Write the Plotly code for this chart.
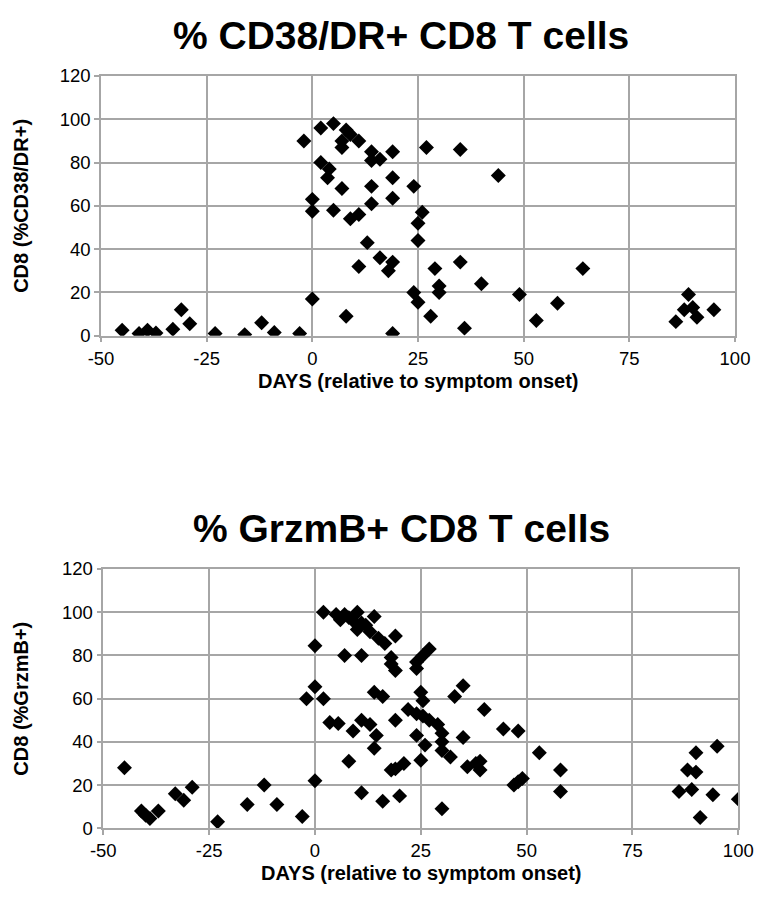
import plotly.graph_objects as go

# % CD38/DR+ CD8 T cells: days relative to symptom onset, percent positive
cd38_days = [-45, -41, -39, -37, -33, -31, -29, -23, -16, -12, -9, -3,
             0, -2, 2, 2, 3.6, 0, 0,
             5, 8, 9, 11, 7, 7, 14, 14, 16, 19, 27, 35,
             4, 7, 14, 19, 24, 44,
             5, 9, 11, 14, 19, 26, 25, 25, 13, 11, 16, 19, 18, 29, 35, 40,
             30, 30, 24, 25, 49, 28, 8, 19, 36, 53, 64, 58,
             89, 88, 90, 91, 95, 86]
cd38_pct = [2.5, 1, 2.5, 1.2, 3, 12, 5.5, 1, 0.5, 6, 1.5, 1,
            17, 90, 96, 80, 73, 63, 57.5,
            98, 95, 93, 90, 87, 90, 85, 81, 81.5, 85, 87, 86,
            77, 68, 69, 73, 69, 74,
            58, 54, 56, 61, 63.5, 57, 52, 44, 43, 32, 36, 34, 30, 31, 34, 24,
            23, 20, 20, 15.5, 19, 9, 9, 1, 3.5, 7, 31, 15,
            19, 12, 13, 8.5, 12, 6.5]

# % GrzmB+ CD8 T cells
grz_days = [-45, -41, -40, -39, -37, -33, -31, -29, -23, -16, -12, -9, -3,
            0, -2, 0, 2, 0,
            2, 5, 7, 10, 14, 6, 9, 10, 12, 13, 15, 16.5, 19, 11, 8,
            7, 11, 18, 18, 19, 27, 25.5, 24, 24,
            14, 16, 25, 25.5, 35, 33, 40,
            3.5, 5.5, 11, 9, 13, 14.5, 14, 19, 22, 24, 25.5, 27, 29, 30,
            24, 26, 30, 35, 30, 32, 25, 36, 38, 39, 39,
            8, 18, 19, 21, 47, 48, 49,
            11, 16, 20, 30,
            53, 44.5, 48, 58, 58,
            90, 95, 88, 90, 86, 89, 94, 100, 91]
grz_pct = [28, 8, 6, 4.5, 8, 16, 13, 19, 3, 11, 20, 11, 5.5,
           22, 60, 65.5, 60, 84.5,
           100, 99, 99, 100, 98, 96.5, 96, 92, 94, 91, 88, 85.5, 89, 95, 97.5,
           80, 80, 79, 76, 73, 83, 80, 77, 74,
           63, 61, 63, 59, 66, 61, 55,
           49, 48.5, 50, 45, 48, 43, 37, 50, 55, 53, 52, 50, 48, 44,
           43, 38.5, 40, 42, 36, 33, 31.5, 28.5, 30, 31, 27,
           31, 27, 27.5, 30, 20, 21.5, 23,
           16.5, 12.5, 15, 9,
           35, 46, 45, 27, 17,
           35, 38, 27, 26, 17, 18, 15.5, 13.5, 5]

x_ticks = [-50, -25, 0, 25, 50, 75, 100]
x_tick_labels = ["-50", "-25", "0", "25", "50", "75", "100"]
y_ticks = [0, 20, 40, 60, 80, 100, 120]

titles = ["% CD38/DR+ CD8 T cells", "% GrzmB+ CD8 T cells"]
y_titles = ["CD8 (%CD38/DR+)", "CD8 (%GrzmB+)"]
x_title = "DAYS (relative to symptom onset)"

W, H = 757, 915
GRID = "#a6a6a6"
FONT = "Liberation Sans, Arial, sans-serif"

# plot-area pixel boxes (left, right, top, bottom)
boxes = [(101, 735, 76, 335.7), (103.3, 738.3, 569, 828.3)]

fig = go.Figure()
series = [(cd38_days, cd38_pct), (grz_days, grz_pct)]
for i, (xs, ys) in enumerate(series):
    sfx = "" if i == 0 else "2"
    fig.add_trace(go.Scatter(
        x=xs, y=ys, mode="markers",
        marker=dict(symbol="diamond", size=11.5, color="black", line=dict(width=0)),
        xaxis="x" + sfx, yaxis="y" + sfx, showlegend=False, hoverinfo="x+y"))

layout = dict(width=W, height=H, margin=dict(l=0, r=0, t=0, b=0, autoexpand=False),
              paper_bgcolor="white", plot_bgcolor="white",
              font=dict(family=FONT, color="black"), annotations=[])

for i, (l, r, t, b) in enumerate(boxes):
    sfx = "" if i == 0 else "2"
    common = dict(showgrid=True, gridcolor=GRID, gridwidth=1.5,
                  showline=True, linecolor=GRID, linewidth=1.5, mirror=True,
                  ticks="outside", ticklen=5, tickcolor=GRID, tickwidth=1.5,
                  zeroline=False, automargin=False,
                  tickfont=dict(size=18.5, family=FONT, color="black"))
    layout["xaxis" + sfx] = dict(domain=[l / W, r / W], range=[-50, 100],
                                 tickvals=x_ticks, ticktext=x_tick_labels,
                                 anchor="y" + sfx, **common)
    layout["yaxis" + sfx] = dict(domain=[1 - b / H, 1 - t / H], range=[0, 120],
                                 tickvals=y_ticks, anchor="x" + sfx, **common)
    # chart title
    layout["annotations"].append(dict(
        text="<b>%s</b>" % titles[i], x=401 / W, y=1 - (t - 41) / H,
        xref="paper", yref="paper", showarrow=False, xanchor="center", yanchor="middle",
        font=dict(size=39, family=FONT, color="black")))
    # x-axis title
    layout["annotations"].append(dict(
        text="<b>%s</b>" % x_title, x=(l + r) / 2 / W, y=1 - (b + 45) / H,
        xref="paper", yref="paper", showarrow=False, xanchor="center", yanchor="middle",
        font=dict(size=20, family=FONT, color="black")))
    # y-axis title
    layout["annotations"].append(dict(
        text="<b>%s</b>" % y_titles[i], x=21 / W, y=1 - ((t + b) / 2) / H,
        xref="paper", yref="paper", showarrow=False, xanchor="center", yanchor="middle",
        textangle=-90, font=dict(size=20, family=FONT, color="black")))

fig.update_layout(**layout)
fig.write_html("out.html")
